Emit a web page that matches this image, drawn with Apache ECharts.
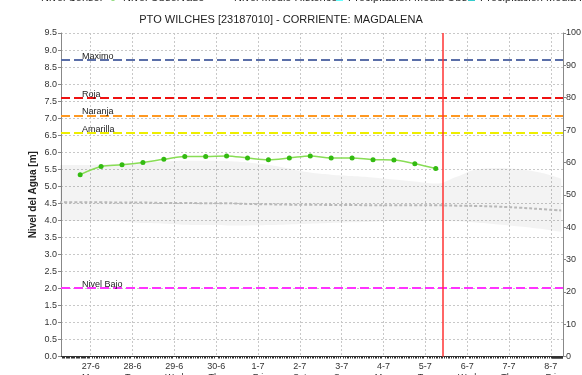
<!DOCTYPE html>
<html>
<head>
<meta charset="utf-8">
<script src="https://cdn.jsdelivr.net/npm/echarts@6/dist/echarts.min.js"></script>
<style>
html,body{margin:0;padding:0;background:#fff;}
#c{width:582px;height:375px;}
</style>
</head>
<body>
<div id="c"></div>
<script>
// ---- data ----
const titleText = 'PTO WILCHES [23187010] - CORRIENTE: MAGDALENA';
const yName = 'Nivel del Agua [m]';
const dayNames = ['Sun','Mon','Tue','Wed','Thu','Fri','Sat'];

const axisStart = '2016-06-26T07:00';
const axisEnd = '2016-07-08T07:00';
const nowTime = '2016-07-05T09:50';

const obsTimes = [
  '2016-06-26T18:00','2016-06-27T06:00','2016-06-27T18:00','2016-06-28T06:00',
  '2016-06-28T18:00','2016-06-29T06:00','2016-06-29T18:00','2016-06-30T06:00',
  '2016-06-30T18:00','2016-07-01T06:00','2016-07-01T18:00','2016-07-02T06:00',
  '2016-07-02T18:00','2016-07-03T06:00','2016-07-03T18:00','2016-07-04T06:00',
  '2016-07-04T18:00','2016-07-05T06:00'
];
const obsLevel = [5.34,5.58,5.63,5.70,5.79,5.87,5.87,5.89,5.83,5.78,5.83,5.89,5.83,5.83,5.78,5.77,5.66,5.52];

const histTimes = [
  '2016-06-26T06:00','2016-06-26T18:00','2016-06-27T06:00','2016-06-27T18:00',
  '2016-06-28T06:00','2016-06-28T18:00','2016-06-29T06:00','2016-06-29T18:00',
  '2016-06-30T06:00','2016-06-30T18:00','2016-07-01T06:00','2016-07-01T18:00',
  '2016-07-02T06:00','2016-07-02T18:00','2016-07-03T06:00','2016-07-03T18:00',
  '2016-07-04T06:00','2016-07-04T18:00','2016-07-05T06:00','2016-07-05T18:00',
  '2016-07-06T06:00','2016-07-06T18:00','2016-07-07T06:00','2016-07-07T18:00',
  '2016-07-08T06:00'
];
const histMax  = [5.62,5.62,5.64,5.67,5.70,5.73,5.75,5.75,5.74,5.70,5.63,5.52,5.40,5.34,5.30,5.26,5.20,5.14,5.08,5.28,5.50,5.53,5.50,5.40,5.22];
const histMin  = [3.98,3.98,3.97,3.95,3.92,3.90,3.87,3.86,3.85,3.85,3.86,3.88,3.90,3.92,3.94,3.96,3.98,3.98,3.99,3.97,3.93,3.88,3.82,3.75,3.66];
const histMean = [4.53,4.53,4.53,4.52,4.52,4.51,4.51,4.50,4.50,4.48,4.47,4.46,4.46,4.45,4.45,4.44,4.44,4.44,4.44,4.43,4.42,4.40,4.37,4.33,4.29];

const levelNames  = ['Maximo','Roja','Naranja','Amarilla','Nivel Bajo'];
const levelValues = [8.71, 7.60, 7.08, 6.57, 2.01];
const levelColors = ['#5a6ea8','#ee1111','#ff9922','#eeee00','#ff33ff'];

const legendNames = ['Nivel Sensor','Nivel Observado','Nivel Medio Historico','Precipitacion Media Obs','Precipitacion Media Historica'];

// ---- build ----
const T = s => Date.parse(s + ':00Z');
const obsData = obsTimes.map((s, i) => [T(s), obsLevel[i]]);
const lowData = histTimes.map((s, i) => [T(s), histMin[i]]);
const spanData = histTimes.map((s, i) => [T(s), +(histMax[i] - histMin[i]).toFixed(3)]);
const meanData = histTimes.map((s, i) => [T(s), histMean[i]]);

const font = 'Liberation Sans, Arial, sans-serif';

const levelLines = levelNames.map((n, i) => ({
  name: n, yAxis: levelValues[i],
  lineStyle: { color: levelColors[i], type: [9, 4], width: 2 },
  label: { show: true, formatter: n, position: 'insideStartTop', distance: [21, -1],
           color: '#222', fontSize: 9, fontFamily: font }
}));
levelLines.push({
  xAxis: T(nowTime),
  lineStyle: { color: '#ff3333', type: 'solid', width: 1.5 },
  label: { show: false }
});

const legendBase = { top: -8, padding: 0, orient: 'horizontal', textStyle: { fontSize: 11, color: '#222', fontFamily: font }, selectedMode: false };

const option = {
  animation: false,
  useUTC: true,
  title: {
    text: titleText, left: 281, top: 14, padding: 0, textAlign: 'center',
    textStyle: { fontSize: 11, fontWeight: 'normal', color: '#222', fontFamily: font }
  },
  legend: [
    Object.assign({}, legendBase, { data: [legendNames[0]], left: 21, itemWidth: 14, itemHeight: 2 }),
    Object.assign({}, legendBase, { data: [{ name: legendNames[1], icon: 'circle' }], left: 110, itemWidth: 10, itemHeight: 6 }),
    Object.assign({}, legendBase, { data: [legendNames[2]], left: 214, itemWidth: 14, itemHeight: 2 }),
    Object.assign({}, legendBase, { data: [{ name: legendNames[3], icon: 'rect' }], left: 336, itemWidth: 7, itemHeight: 7 }),
    Object.assign({}, legendBase, { data: [{ name: legendNames[4], icon: 'rect' }], left: 468, itemWidth: 7, itemHeight: 7 })
  ],
  grid: { left: 61, right: 19, top: 33, bottom: 18.5, containLabel: false, outerBoundsMode: 'none' },
  xAxis: {
    type: 'time',
    min: T(axisStart), max: T(axisEnd),
    minInterval: 86400000, maxInterval: 86400000, splitNumber: 12,
    axisLine: { show: true, lineStyle: { color: '#333', width: 1 } },
    axisTick: { show: false },
    minorTick: { show: true, splitNumber: 24, length: 2, lineStyle: { color: '#333' } },
    splitLine: { show: true, lineStyle: { color: '#c8c8c8', type: [2, 2], width: 1 } },
    axisLabel: {
      fontSize: 9, color: '#333', fontFamily: font, margin: 5, lineHeight: 11,
      showMinLabel: false, showMaxLabel: false, hideOverlap: false,
      formatter: v => { const d = new Date(v); return d.getUTCDate() + '-' + (d.getUTCMonth() + 1) + '\n' + dayNames[d.getUTCDay()]; }
    }
  },
  yAxis: [
    {
      type: 'value', min: 0, max: 9.5, interval: 0.5,
      name: yName, nameLocation: 'middle', nameRotate: 90, nameGap: 23, nameMoveOverlap: false,
      nameTextStyle: { fontSize: 10, fontWeight: 'bold', color: '#222', fontFamily: font },
      axisLine: { show: true, lineStyle: { color: '#888' } },
      axisTick: { show: true, length: 3, lineStyle: { color: '#888' } },
      splitLine: { show: true, lineStyle: { color: '#c8c8c8', type: [2, 2], width: 1 } },
      axisLabel: { fontSize: 9, color: '#333', fontFamily: font, margin: 4, formatter: v => v.toFixed(1) }
    },
    {
      type: 'value', min: 0, max: 100, interval: 10, position: 'right',
      axisLine: { show: true, lineStyle: { color: '#888' } },
      axisTick: { show: true, length: 3, lineStyle: { color: '#888' } },
      splitLine: { show: false },
      axisLabel: { fontSize: 9, color: '#333', fontFamily: font, margin: 3 }
    }
  ],
  series: [
    { name: legendNames[0], type: 'line', data: [], color: '#3333cc', symbol: 'none' },
    {
      name: 'rangoMin', type: 'line', stack: 'banda', data: lowData, smooth: 0.4,
      symbol: 'none', lineStyle: { opacity: 0 }, silent: true
    },
    {
      name: 'rangoMax', type: 'line', stack: 'banda', data: spanData, smooth: 0.4,
      symbol: 'none', lineStyle: { opacity: 0 }, silent: true,
      areaStyle: { color: 'rgba(0,0,0,0.065)' }
    },
    {
      name: legendNames[2], type: 'line', data: meanData, smooth: 0.4, symbol: 'none',
      color: '#b8b8b8',
      lineStyle: { color: '#b8b8b8', width: 2, type: [3, 2] },
      markLine: { symbol: 'none', silent: true, data: levelLines }
    },
    {
      name: legendNames[1], type: 'line', data: obsData, smooth: 0.35,
      symbol: 'circle', symbolSize: 5, color: '#33bb11',
      itemStyle: { color: '#33bb11' },
      lineStyle: { color: '#88dd55', width: 1.5 }, z: 5
    },
    { name: legendNames[3], type: 'line', yAxisIndex: 1, data: [], color: '#66ffff', symbol: 'none' },
    { name: legendNames[4], type: 'line', yAxisIndex: 1, data: [], color: '#33cccc', symbol: 'none' }
  ]
};

const chart = echarts.init(document.getElementById('c'), null, { renderer: 'canvas' });
chart.setOption(option);
</script>
</body>
</html>
